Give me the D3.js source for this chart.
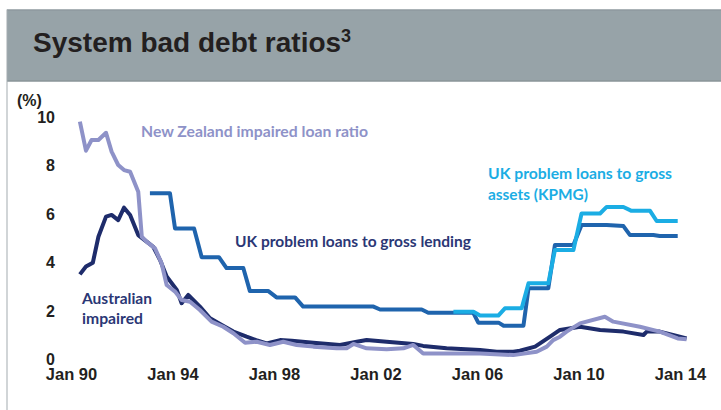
<!DOCTYPE html>
<html>
<head>
<meta charset="utf-8">
<script src="https://cdn.jsdelivr.net/npm/d3@7"></script>
<style>
  html, body { margin: 0; padding: 0; background: #ffffff; }
  svg { display: block; }
</style>
</head>
<body>
<svg id="chart" width="721" height="410"></svg>
<script>
// ---------------- DATA ----------------
const titleText = "System bad debt ratios";
const titleSup = "3";
const unitLabel = "(%)";

const xTickYears = [1990, 1994, 1998, 2002, 2006, 2010, 2014];
const xTickLabels = ["Jan 90", "Jan 94", "Jan 98", "Jan 02", "Jan 06", "Jan 10", "Jan 14"];
const yTickValues = [0, 2, 4, 6, 8, 10];

// Australian impaired assets ratio [decimal year, %]
const australianImpaired = [
  [1990.35, 3.49], [1990.59, 3.81], [1990.86, 3.97], [1991.08, 5.04], [1991.38, 5.87],
  [1991.60, 5.94], [1991.86, 5.73], [1992.09, 6.24], [1992.33, 5.94], [1992.65, 5.11],
  [1992.98, 4.84], [1993.24, 4.63], [1993.51, 4.08], [1993.77, 3.40], [1994.17, 2.85],
  [1994.36, 2.30], [1994.62, 2.64], [1995.08, 2.16], [1995.48, 1.68], [1995.94, 1.40],
  [1996.40, 1.13], [1996.92, 0.92], [1997.30, 0.78], [1997.71, 0.64], [1998.24, 0.78],
  [1998.70, 0.75], [1999.55, 0.67], [2000.60, 0.58], [2001.26, 0.71], [2001.65, 0.78],
  [2002.44, 0.71], [2003.49, 0.62], [2003.88, 0.54], [2004.80, 0.44], [2006.12, 0.37],
  [2006.78, 0.30], [2007.43, 0.30], [2007.69, 0.34], [2008.29, 0.51], [2008.88, 0.92],
  [2009.27, 1.20], [2010.06, 1.33], [2010.85, 1.20], [2011.77, 1.13], [2012.56, 0.99],
  [2012.69, 1.13], [2013.20, 1.13], [2013.72, 0.99], [2014.26, 0.85]
];

// New Zealand impaired loan ratio [decimal year, %]
const nzImpaired = [
  [1990.35, 9.79], [1990.59, 8.59], [1990.81, 9.03], [1991.08, 9.03], [1991.38, 9.33],
  [1991.60, 8.55], [1991.86, 8.00], [1992.09, 7.79], [1992.33, 7.72], [1992.65, 6.90],
  [1992.79, 5.04], [1992.98, 4.84], [1993.31, 4.56], [1993.57, 3.95], [1993.77, 3.05],
  [1994.10, 2.78], [1994.36, 2.43], [1994.69, 2.36], [1995.08, 2.02], [1995.54, 1.54],
  [1996.00, 1.33], [1996.40, 1.06], [1996.86, 0.67], [1997.32, 0.71], [1997.84, 0.58],
  [1998.37, 0.71], [1998.89, 0.58], [1999.55, 0.51], [2000.47, 0.44], [2000.86, 0.44],
  [2001.13, 0.62], [2001.65, 0.44], [2002.44, 0.40], [2003.10, 0.44], [2003.49, 0.58],
  [2003.88, 0.23], [2004.80, 0.23], [2006.12, 0.23], [2007.43, 0.16], [2008.35, 0.30],
  [2008.75, 0.51], [2009.00, 0.78], [2009.27, 0.92], [2009.53, 1.13], [2010.06, 1.47],
  [2011.04, 1.74], [2011.37, 1.54], [2012.42, 1.33], [2013.20, 1.13], [2013.91, 0.85],
  [2014.26, 0.81]
];

// UK problem loans to gross lending [decimal year, %]
const ukGrossLending = [
  [1993.11, 6.83], [1993.90, 6.83], [1994.10, 5.38], [1994.85, 5.38], [1995.15, 4.20],
  [1995.83, 4.20], [1996.13, 3.75], [1996.79, 3.75], [1997.05, 2.80], [1997.78, 2.80],
  [1998.10, 2.54], [1998.83, 2.54], [1999.15, 2.16], [2001.92, 2.16], [2002.18, 2.04],
  [2003.82, 2.04], [2004.08, 1.91], [2005.85, 1.91], [2006.05, 1.50], [2006.85, 1.50],
  [2007.05, 1.37], [2007.83, 1.37], [2008.03, 2.92], [2008.81, 2.92], [2009.07, 4.70],
  [2009.80, 4.70], [2010.12, 5.53], [2011.11, 5.53], [2011.77, 5.48], [2012.03, 5.11],
  [2012.95, 5.11], [2013.20, 5.07], [2013.91, 5.07]
];

// UK problem loans to gross assets (KPMG) [decimal year, %]
const ukGrossAssetsKPMG = [
  [2005.07, 1.95], [2005.86, 1.95], [2006.12, 1.79], [2006.84, 1.79], [2007.10, 2.09],
  [2007.76, 2.09], [2008.03, 3.12], [2008.81, 3.12], [2009.07, 4.49], [2009.80, 4.49],
  [2010.12, 6.00], [2010.85, 6.00], [2011.11, 6.27], [2011.77, 6.27], [2012.09, 6.11],
  [2012.82, 6.11], [2013.08, 5.69], [2013.91, 5.69]
];

// ---------------- DRAW ----------------
const svg = d3.select("#chart");

// header band
svg.append("rect").attr("x", 7).attr("y", 9.5).attr("width", 714).attr("height", 71.5)
  .attr("fill", "#97a3a8");
svg.append("line").attr("x1", 7).attr("x2", 721).attr("y1", 10).attr("y2", 10)
  .attr("stroke", "#8a9499").attr("stroke-width", 1.2);
svg.append("line").attr("x1", 7).attr("x2", 721).attr("y1", 81).attr("y2", 81)
  .attr("stroke", "#8a9499").attr("stroke-width", 1.5);
svg.append("line").attr("x1", 7).attr("x2", 7).attr("y1", 9.5).attr("y2", 410)
  .attr("stroke", "#a3abaf").attr("stroke-width", 1);

const title = svg.append("text").attr("x", 33).attr("y", 52)
  .attr("font-family", "'Liberation Sans', Arial, sans-serif")
  .attr("font-weight", "bold").attr("font-size", 28).attr("fill", "#231f20");
title.append("tspan").text(titleText);
title.append("tspan").text(titleSup).attr("font-size", 18).attr("dy", -10);

svg.append("text").attr("x", 17).attr("y", 106).text(unitLabel)
  .attr("font-family", "'Liberation Sans', Arial, sans-serif")
  .attr("font-weight", "bold").attr("font-size", 16).attr("fill", "#231f20");

const x = d3.scaleLinear().domain([1990, 2014]).range([71, 680]);
const y = d3.scaleLinear().domain([0, 10]).range([359, 116.5]);

const axisFont = "'Liberation Sans', Arial, sans-serif";

const yAxis = svg.append("g").attr("transform", "translate(58,0)")
  .call(d3.axisLeft(y).tickValues(yTickValues).tickSize(0).tickPadding(3).tickFormat(d3.format("d")));
yAxis.select(".domain").remove();
yAxis.selectAll("text").attr("font-family", axisFont).attr("font-weight", "bold")
  .attr("font-size", 16).attr("fill", "#231f20").attr("dy", "0.36em");

const xAxis = svg.append("g").attr("transform", "translate(0,359)")
  .call(d3.axisBottom(x).tickValues(xTickYears).tickSize(0)
    .tickFormat((d, i) => xTickLabels[i]));
xAxis.select(".domain").remove();
xAxis.selectAll("text").attr("font-family", axisFont).attr("font-weight", "bold")
  .attr("font-size", 16.5).attr("fill", "#231f20").attr("y", 21).attr("dy", 0);

const line = d3.line().x(d => x(d[0])).y(d => y(d[1]));

function drawSeries(data, color) {
  svg.append("path").datum(data).attr("d", line)
    .attr("fill", "none").attr("stroke", color).attr("stroke-width", 4)
    .attr("stroke-linejoin", "round");
}

drawSeries(ukGrossLending, "#1f64ad");
drawSeries(ukGrossAssetsKPMG, "#1badE4");
drawSeries(australianImpaired, "#1e2c6b");
drawSeries(nzImpaired, "#8e92c8");

// annotations
const labelFont = "Lato, 'Open Sans', sans-serif";
function label(txt, lx, ly, len, color) {
  svg.append("text").attr("x", lx).attr("y", ly).text(txt)
    .attr("font-family", labelFont).attr("font-weight", "bold").attr("font-size", 15)
    .attr("fill", color).attr("textLength", len).attr("lengthAdjust", "spacingAndGlyphs");
}
label("New Zealand impaired loan ratio", 141, 136.5, 227, "#8e92c8");
label("UK problem loans to gross lending", 235, 246.5, 236, "#2b3775");
label("UK problem loans to gross", 488, 179, 184, "#1badE4");
label("assets (KPMG)", 488, 200, 100, "#1badE4");
label("Australian", 82, 304, 70, "#2b3775");
label("impaired", 82, 324, 61, "#2b3775");
</script>
</body>
</html>
